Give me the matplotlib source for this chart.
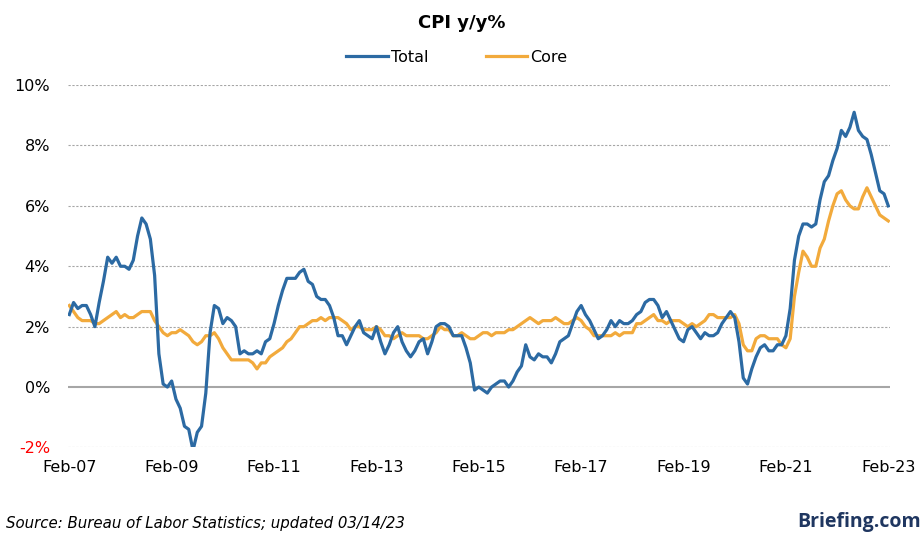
import numpy as np
import pandas as pd
from matplotlib import pyplot as plt

# monthly CPI y/y %, Feb-07 .. Feb-23
total = [
    2.4, 2.8, 2.6, 2.7, 2.7, 2.4, 2.0, 2.8, 3.5, 4.3, 4.1,                    # 2007 Feb-Dec
    4.3, 4.0, 4.0, 3.9, 4.2, 5.0, 5.6, 5.4, 4.9, 3.7, 1.1, 0.1,               # 2008
    0.0, 0.2, -0.4, -0.7, -1.3, -1.4, -2.1, -1.5, -1.3, -0.2, 1.8, 2.7,       # 2009
    2.6, 2.1, 2.3, 2.2, 2.0, 1.1, 1.2, 1.1, 1.1, 1.2, 1.1, 1.5,               # 2010
    1.6, 2.1, 2.7, 3.2, 3.6, 3.6, 3.6, 3.8, 3.9, 3.5, 3.4, 3.0,               # 2011
    2.9, 2.9, 2.7, 2.3, 1.7, 1.7, 1.4, 1.7, 2.0, 2.2, 1.8, 1.7,               # 2012
    1.6, 2.0, 1.5, 1.1, 1.4, 1.8, 2.0, 1.5, 1.2, 1.0, 1.2, 1.5,               # 2013
    1.6, 1.1, 1.5, 2.0, 2.1, 2.1, 2.0, 1.7, 1.7, 1.7, 1.3, 0.8,               # 2014
    -0.1, 0.0, -0.1, -0.2, 0.0, 0.1, 0.2, 0.2, 0.0, 0.2, 0.5, 0.7,            # 2015
    1.4, 1.0, 0.9, 1.1, 1.0, 1.0, 0.8, 1.1, 1.5, 1.6, 1.7, 2.1,               # 2016
    2.5, 2.7, 2.4, 2.2, 1.9, 1.6, 1.7, 1.9, 2.2, 2.0, 2.2, 2.1,               # 2017
    2.1, 2.2, 2.4, 2.5, 2.8, 2.9, 2.9, 2.7, 2.3, 2.5, 2.2, 1.9,               # 2018
    1.6, 1.5, 1.9, 2.0, 1.8, 1.6, 1.8, 1.7, 1.7, 1.8, 2.1, 2.3,               # 2019
    2.5, 2.3, 1.5, 0.3, 0.1, 0.6, 1.0, 1.3, 1.4, 1.2, 1.2, 1.4,               # 2020
    1.4, 1.7, 2.6, 4.2, 5.0, 5.4, 5.4, 5.3, 5.4, 6.2, 6.8, 7.0,               # 2021
    7.5, 7.9, 8.5, 8.3, 8.6, 9.1, 8.5, 8.3, 8.2, 7.7, 7.1, 6.5,               # 2022
    6.4, 6.0,                                                                # 2023
]

core = [
    2.7, 2.5, 2.3, 2.2, 2.2, 2.2, 2.1, 2.1, 2.2, 2.3, 2.4,                    # 2007 Feb-Dec
    2.5, 2.3, 2.4, 2.3, 2.3, 2.4, 2.5, 2.5, 2.5, 2.2, 2.0, 1.8,               # 2008
    1.7, 1.8, 1.8, 1.9, 1.8, 1.7, 1.5, 1.4, 1.5, 1.7, 1.7, 1.8,               # 2009
    1.6, 1.3, 1.1, 0.9, 0.9, 0.9, 0.9, 0.9, 0.8, 0.6, 0.8, 0.8,               # 2010
    1.0, 1.1, 1.2, 1.3, 1.5, 1.6, 1.8, 2.0, 2.0, 2.1, 2.2, 2.2,               # 2011
    2.3, 2.2, 2.3, 2.3, 2.3, 2.2, 2.1, 1.9, 2.0, 2.0, 1.9, 1.9,               # 2012
    1.9, 2.0, 1.9, 1.7, 1.7, 1.6, 1.7, 1.8, 1.7, 1.7, 1.7, 1.7,               # 2013
    1.6, 1.6, 1.7, 1.8, 2.0, 1.9, 1.9, 1.7, 1.7, 1.8, 1.7, 1.6,               # 2014
    1.6, 1.7, 1.8, 1.8, 1.7, 1.8, 1.8, 1.8, 1.9, 1.9, 2.0, 2.1,               # 2015
    2.2, 2.3, 2.2, 2.1, 2.2, 2.2, 2.2, 2.3, 2.2, 2.1, 2.1, 2.2,               # 2016
    2.3, 2.2, 2.0, 1.9, 1.7, 1.7, 1.7, 1.7, 1.7, 1.8, 1.7, 1.8,               # 2017
    1.8, 1.8, 2.1, 2.1, 2.2, 2.3, 2.4, 2.2, 2.2, 2.1, 2.2, 2.2,               # 2018
    2.2, 2.1, 2.0, 2.1, 2.0, 2.1, 2.2, 2.4, 2.4, 2.3, 2.3, 2.3,               # 2019
    2.3, 2.4, 2.1, 1.4, 1.2, 1.2, 1.6, 1.7, 1.7, 1.6, 1.6, 1.6,               # 2020
    1.4, 1.3, 1.6, 3.0, 3.8, 4.5, 4.3, 4.0, 4.0, 4.6, 4.9, 5.5,               # 2021
    6.0, 6.4, 6.5, 6.2, 6.0, 5.9, 5.9, 6.3, 6.6, 6.3, 6.0, 5.7,               # 2022
    5.6, 5.5,                                                                # 2023
]

dates = pd.date_range("2007-02-01", periods=len(total), freq="MS")
tick_labels = ["Feb-07", "Feb-09", "Feb-11", "Feb-13", "Feb-15",
               "Feb-17", "Feb-19", "Feb-21", "Feb-23"]
y_ticks = [-2, 0, 2, 4, 6, 8, 10]

BLUE = "#2C6AA3"
ORANGE = "#F2AA3C"

fig = plt.figure(figsize=(9.23, 5.49), dpi=100)
ax = fig.add_axes([0.0737, 0.185, 0.891, 0.66])

x = np.arange(len(total))
ax.plot(x, total, color=BLUE, linewidth=2.3, label="Total", zorder=3)
ax.plot(x, core, color=ORANGE, linewidth=2.3, label="Core", zorder=2)

ax.set_xlim(x[0] - 0.3, x[-1] + 0.5)
ax.set_ylim(-2, 10)

for v in y_ticks:
    if v == 0:
        ax.axhline(v, color="#A6A6A6", linewidth=1.5, zorder=1)
    else:
        ax.axhline(v, color="#A6A6A6", linewidth=0.8, linestyle=(0, (2, 1.5)), zorder=1)

ax.set_yticks(y_ticks)
ax.set_yticklabels([f"{v}%" for v in y_ticks], fontsize=11.5)
ax.get_yticklabels()[0].set_color("red")

tick_pos = [dates.get_loc(pd.Timestamp(f"20{lab[-2:]}-02-01")) for lab in tick_labels]
ax.set_xticks(tick_pos)
ax.set_xticklabels(tick_labels, fontsize=11.5)

ax.tick_params(axis="y", length=0, pad=13)
ax.tick_params(axis="x", length=0, pad=9)
for s in ax.spines.values():
    s.set_visible(False)

fig.text(0.5, 0.958, "CPI y/y%", ha="center", va="center", fontsize=13, fontweight="bold")
fig.legend(loc="center", bbox_to_anchor=(0.495, 0.896), ncol=2, frameon=False,
           fontsize=11.5, handlelength=2.6, handletextpad=0.2, columnspacing=3.6)

fig.text(0.006, 0.047, "Source: Bureau of Labor Statistics; updated 03/14/23",
         fontsize=10.8, style="italic", ha="left", va="center")
fig.text(0.998, 0.049, "Briefing.com", fontsize=14, fontweight="bold",
         family="Open Sans", color="#1F3660", ha="right", va="center")

fig.savefig("out.png", dpi=100)
